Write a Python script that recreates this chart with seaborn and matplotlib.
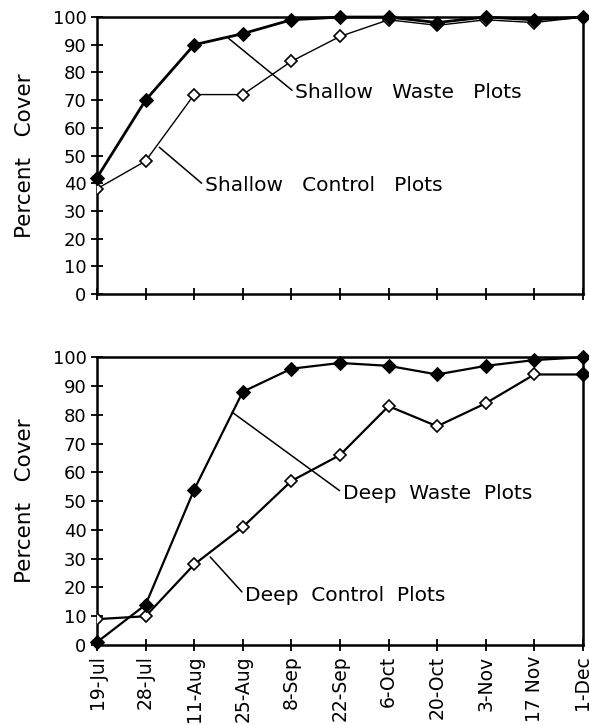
import seaborn as sns
import matplotlib
matplotlib.use("Agg")
import matplotlib.pyplot as plt
import pandas as pd
import numpy as np

dates = ["19-Jul", "28-Jul", "11-Aug", "25-Aug", "8-Sep", "22-Sep",
         "6-Oct", "20-Oct", "3-Nov", "17 Nov", "1-Dec"]
shallow_waste = [42, 70, 90, 94, 99, 100, 100, 98, 100, 99, 100]
shallow_control = [38, 48, 72, 72, 84, 93, 99, 97, 99, 98, 100]
deep_waste = [1, 14, 54, 88, 96, 98, 97, 94, 97, 99, 100]
deep_control = [9, 10, 28, 41, 57, 66, 83, 76, 84, 94, 94]

sns.set_style("ticks")
plt.rcParams["font.family"] = ["DejaVu Sans"]
plt.rcParams["text.color"] = "black"
plt.rcParams["axes.labelcolor"] = "black"

fig = plt.figure(figsize=(5.89, 7.25), dpi=100)
ax1 = fig.add_axes([0.1647, 0.5945, 0.825, 0.382])
ax2 = fig.add_axes([0.1647, 0.1103, 0.825, 0.397])

idx = np.arange(len(dates))


def draw(ax, waste, control, waste_lw, control_lw, last_filled=False):
    df = pd.DataFrame({"x": idx, "waste": waste, "control": control})
    sns.lineplot(data=df, x="x", y="control", ax=ax, color="black", lw=control_lw,
                 marker="D", markersize=6.5, markerfacecolor="white",
                 markeredgecolor="black", markeredgewidth=1.2, zorder=3)
    sns.lineplot(data=df, x="x", y="waste", ax=ax, color="black", lw=waste_lw,
                 marker="D", markersize=7, markerfacecolor="black",
                 markeredgecolor="black", zorder=4, clip_on=False)
    if last_filled:
        ax.plot(idx[-1], control[-1], marker="D", markersize=7, color="black",
                zorder=5, clip_on=False)
    ax.set_xlim(0, len(dates) - 1)
    ax.set_ylim(0, 100)
    ax.set_yticks(range(0, 101, 10))
    ax.set_xticks(idx)
    ax.set_ylabel("Percent   Cover", fontsize=15.5, labelpad=13)
    ax.set_xlabel("")
    for s in ax.spines.values():
        s.set_linewidth(1.8)
        s.set_color("black")
    ax.tick_params(direction="inout", length=9, width=1.3, labelsize=13,
                   colors="black", pad=3)


draw(ax1, shallow_waste, shallow_control, 2.0, 1.0)
ax1.set_xticklabels([])
draw(ax2, deep_waste, deep_control, 1.6, 1.6, last_filled=True)
ax2.set_xticklabels(dates, rotation=90, fontsize=13.5)

leader = dict(arrowstyle="-", color="black", lw=1.1, shrinkA=0, shrinkB=0,
              relpos=(0, 0.5))
ax1.annotate("Shallow   Waste   Plots", xy=(2.70, 92.4), xytext=(4.08, 72.6),
             fontsize=14.5, va="center", ha="left", arrowprops=leader)
ax1.annotate("Shallow   Control   Plots", xy=(1.28, 53), xytext=(2.22, 39.0),
             fontsize=14.5, va="center", ha="left", arrowprops=leader)
ax2.annotate("Deep  Waste  Plots", xy=(2.78, 80.9), xytext=(5.06, 52.8),
             fontsize=14.5, va="center", ha="left", arrowprops=leader)
ax2.annotate("Deep  Control  Plots", xy=(2.33, 30.6), xytext=(3.05, 17.2),
             fontsize=14.5, va="center", ha="left", arrowprops=leader)

fig.savefig("out.png", dpi=100)
